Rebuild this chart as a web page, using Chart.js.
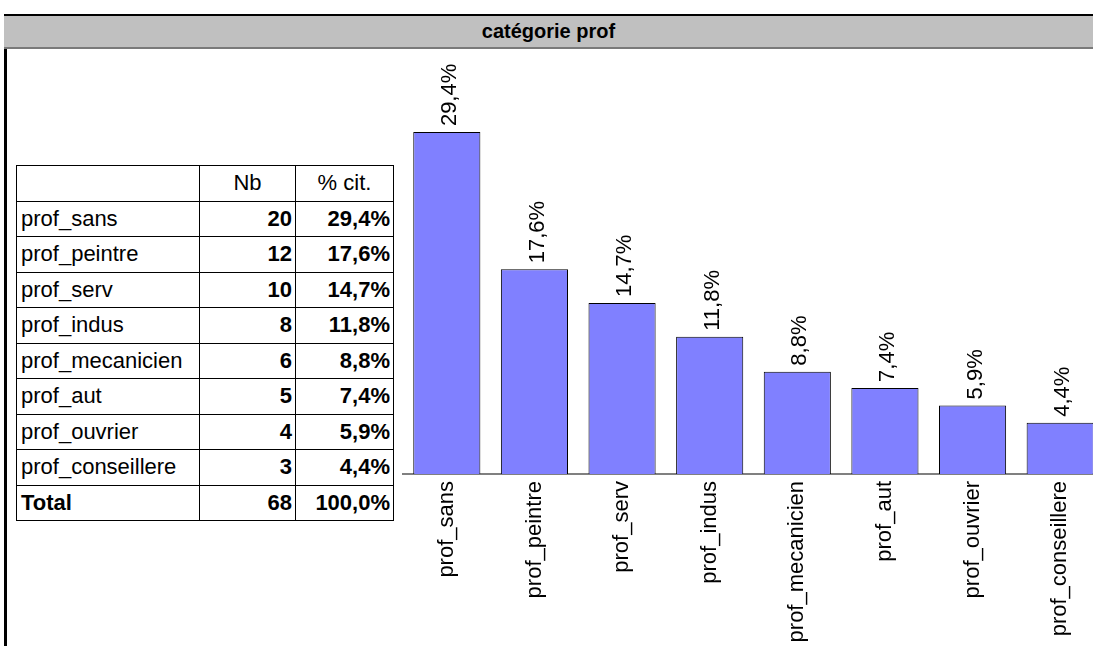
<!DOCTYPE html>
<html>
<head>
<meta charset="utf-8">
<script src="https://cdn.jsdelivr.net/npm/chart.js@4"></script>
<style>
    html, body { margin: 0; padding: 0; background: #fff; overflow: hidden; }
    body { width: 1093px; height: 646px; position: relative; font-family: 'Liberation Sans', Arial, sans-serif; }
    #frameLeft { position: absolute; left: 4px; top: 14px; width: 3px; height: 632px; background: #000; }
    #titleBar {
        position: absolute; left: 4px; top: 14px; width: 1089px; height: 31px;
        background: #c0c0c0; border-top: 2px solid #000; border-bottom: 2px solid #7a7a7a;
        text-align: center; line-height: 31px; font-weight: bold; font-size: 20px; color: #000;
    }
    #tbl {
        position: absolute; left: 16px; top: 165px; border-collapse: collapse;
        font-size: 22px; color: #000;
    }
    #tbl td { border: 1px solid #000; height: 34.5px; padding: 0 4px; white-space: nowrap; }
    #tbl td.num { text-align: right; font-weight: bold; padding-right: 3px; }
    #tbl td.hd { text-align: center; }
    #chartBox { position: absolute; left: 395px; top: 48px; }
</style>
</head>
<body>
<div id="frameLeft"></div>
<div id="titleBar">catégorie prof</div>
<table id="tbl"></table>
<div id="chartBox"><canvas id="profChart" width="720" height="598"></canvas></div>

<script>
// data
var categories = ['prof_sans', 'prof_peintre', 'prof_serv', 'prof_indus',
                  'prof_mecanicien', 'prof_aut', 'prof_ouvrier', 'prof_conseillere'];
var counts = [20, 12, 10, 8, 6, 5, 4, 3];
var pcts = [29.4, 17.6, 14.7, 11.8, 8.8, 7.4, 5.9, 4.4];
var totalCount = 68;
var totalPct = 100.0;

function fmtPct(v) {
    return v.toFixed(1).replace('.', ',') + '%';
}

// table on the left
function buildTable() {
    var tbl = document.getElementById('tbl');
    var html = '<tr><td style="width:174px"></td><td class="hd" style="width:87px">Nb</td>' +
               '<td class="hd" style="width:89px">% cit.</td></tr>';
    categories.forEach(function(c, i) {
        html += '<tr><td>' + c + '</td><td class="num">' + counts[i] + '</td><td class="num">' +
                fmtPct(pcts[i]) + '</td></tr>';
    });
    html += '<tr><td style="font-weight:bold">Total</td><td class="num">' + totalCount +
            '</td><td class="num">' + fmtPct(totalPct) + '</td></tr>';
    tbl.innerHTML = html;
}

// rotated value labels above each bar
var barLabels = {
    id: 'barLabels',
    afterDatasetsDraw: function(chart) {
        var ctx = chart.ctx;
        var meta = chart.getDatasetMeta(0);
        ctx.save();
        ctx.fillStyle = '#000';
        ctx.font = "22px 'Liberation Sans', Arial, sans-serif";
        ctx.textAlign = 'left';
        ctx.textBaseline = 'middle';
        meta.data.forEach(function(bar, i) {
            ctx.save();
            ctx.translate(bar.x + 3, bar.y - 6);
            ctx.rotate(-Math.PI / 2);
            ctx.fillText(fmtPct(pcts[i]), 0, 0);
            ctx.restore();
        });
        ctx.restore();
    }
};

function initProfChart() {
    var canvas = document.getElementById('profChart');
    new Chart(canvas.getContext('2d'), {
        type: 'bar',
        data: {
            labels: categories,
            datasets: [{
                data: pcts,
                backgroundColor: '#8080ff',
                borderColor: '#000',
                borderWidth: 1,
                categoryPercentage: 1,
                barPercentage: 0.766
            }]
        },
        options: {
            responsive: false,
            animation: false,
            events: [],
            layout: { padding: { left: 8, right: 11, top: 12, bottom: 0 } },
            plugins: {
                legend: { display: false },
                title: { display: false },
                tooltip: { enabled: false }
            },
            scales: {
                y: {
                    display: false,
                    min: 0,
                    max: 35.6
                },
                x: {
                    grid: { display: false, drawTicks: false },
                    border: { display: true, color: '#808080', width: 2 },
                    ticks: {
                        color: '#000',
                        minRotation: 90,
                        maxRotation: 90,
                        autoSkip: false,
                        padding: 7,
                        font: { size: 22, family: "'Liberation Sans', Arial, sans-serif" }
                    },
                    afterFit: function(scale) { scale.height = 172; }
                }
            }
        },
        plugins: [barLabels]
    });
}

buildTable();
initProfChart();
</script>
</body>
</html>
